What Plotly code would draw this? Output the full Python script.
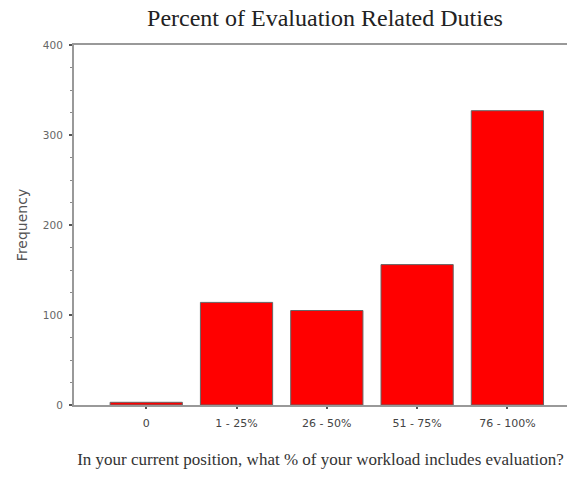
import plotly.graph_objects as go

categories = ["0", "1 - 25%", "26 - 50%", "51 - 75%", "76 - 100%"]
frequency = [3, 114, 105, 156, 327]
y_ticks = [0, 100, 200, 300, 400]

fig = go.Figure(
    go.Bar(
        x=categories,
        y=frequency,
        width=0.8,
        marker=dict(color="#ff0000", line=dict(color="#666666", width=1)),
    )
)

fig.update_layout(
    width=568,
    height=483,
    margin=dict(l=74, r=1, t=45, b=78),
    paper_bgcolor="white",
    plot_bgcolor="white",
    showlegend=False,
    title=dict(
        text="Percent of Evaluation Related Duties",
        x=325 / 568,
        xanchor="center",
        y=1 - 18 / 483,
        yanchor="middle",
        font=dict(family="Liberation Serif", size=24, color="#222222"),
    ),
)

fig.update_xaxes(
    range=[-0.8, 4.66],
    showline=True,
    linecolor="#999999",
    linewidth=2,
    mirror=True,
    ticks="outside",
    ticklen=2,
    tickwidth=2,
    tickcolor="#555555",
    ticklabelstandoff=5,
    tickfont=dict(family="DejaVu Sans", size=11, color="#444444"),
    showgrid=False,
    zeroline=False,
    title=dict(
        text="In your current position, what % of your workload includes evaluation?",
        font=dict(family="Liberation Serif", size=17, color="#333333"),
        standoff=24,
    ),
)

fig.update_yaxes(
    range=[0, 400],
    tickvals=y_ticks,
    showline=True,
    linecolor="#999999",
    linewidth=2,
    ticks="outside",
    ticklen=3,
    tickwidth=2,
    tickcolor="#555555",
    minor=dict(dtick=25, ticks="outside", ticklen=2, tickcolor="#888888", tickwidth=1),
    ticklabelstandoff=4,
    tickfont=dict(family="DejaVu Sans", size=10.5, color="#666666"),
    showgrid=False,
    zeroline=False,
    title=dict(
        text="Frequency",
        font=dict(family="DejaVu Sans", size=14, color="#555555"),
        standoff=12,
    ),
)

fig.write_html(
    "out.html",
    config={"displayModeBar": False},
    post_script="document.body.style.margin='0';document.body.style.overflow='hidden';",
)
